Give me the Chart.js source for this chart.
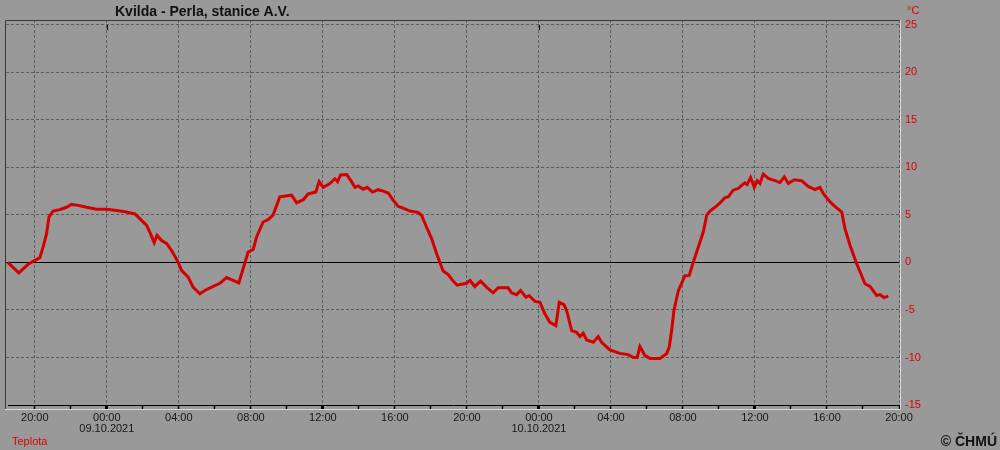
<!DOCTYPE html>
<html lang="cs">
<head>
    <meta charset="UTF-8">
    <title>Kvilda - Perla, stanice A.V.</title>
    <script src="https://cdn.jsdelivr.net/npm/chart.js"></script>
    <style>
        body { margin: 0; background: #999999; }
        canvas { display: block; }
    </style>
</head>
<body>
    <canvas id="tempChart" width="1000" height="450"></canvas>

    <script>
        // hodiny od 09.10.2021 00:00
        const hours = [
            -5.5, -4.89, -4.37, -3.72, -3.54, -3.35, -3.21, -2.98, -2.61, -2.24, -1.96, -1.59, -1.13, -0.57, -0.02,
            0.54, 1.09, 1.56, 1.83, 2.21, 2.43, 2.63, 2.79, 3.04, 3.32, 3.59, 3.96, 4.15, 4.52, 4.79, 5.17, 5.44,
            5.82, 6.28, 6.65, 7.02, 7.33, 7.57, 7.85, 8.13, 8.32, 8.68, 8.96, 9.24, 9.61, 10.26, 10.54, 10.91,
            11.18, 11.61, 11.79, 12.02, 12.39, 12.67, 12.82, 12.98, 13.32, 13.54, 13.78, 13.96, 14.24, 14.46,
            14.76, 15.07, 15.35, 15.63, 15.91, 16.18, 16.46, 16.83, 17.29, 17.48, 17.76, 18.04, 18.32, 18.68,
            18.96, 19.24, 19.46, 19.71, 19.98, 20.17, 20.44, 20.76, 21.09, 21.46, 21.74, 22.29, 22.48, 22.76,
            22.98, 23.28, 23.46, 23.78, 24.06, 24.33, 24.61, 24.94, 25.13, 25.39, 25.54, 25.82, 26.09, 26.28,
            26.46, 26.65, 27.02, 27.29, 27.48, 27.94, 28.5, 28.96, 29.24, 29.46, 29.61, 29.89, 30.17, 30.72,
            31.09, 31.24, 31.37, 31.5, 31.74, 32.11, 32.35, 32.57, 32.85, 33.13, 33.32, 33.5, 33.78, 34.06,
            34.33, 34.52, 34.79, 35.07, 35.26, 35.44, 35.57, 35.76, 35.96, 36.13, 36.28, 36.46, 36.74, 37.11,
            37.39, 37.63, 37.85, 38.18, 38.59, 38.96, 39.33, 39.61, 39.79, 40.17, 40.44, 40.82, 41.0, 41.28,
            41.65, 42.11, 42.39, 42.76, 42.94, 43.17, 43.41
        ];
        const temps = [
            0.0, -1.1, -0.2, 0.5, 1.6, 3.0, 4.8, 5.4, 5.55, 5.8, 6.1, 6.0, 5.8, 5.6, 5.6,
            5.45, 5.3, 5.1, 4.6, 3.9, 3.0, 2.1, 2.85, 2.3, 2.0, 1.27, 0.03, -0.84, -1.55, -2.6, -3.3, -2.95,
            -2.6, -2.2, -1.6, -1.9, -2.15, -0.67, 1.1, 1.37, 2.67, 4.25, 4.5, 5.0, 6.9, 7.07, 6.26, 6.6,
            7.2, 7.4, 8.5, 7.9, 8.3, 8.8, 8.5, 9.2, 9.25, 8.65, 7.9, 8.05, 7.7, 7.9,
            7.4, 7.65, 7.5, 7.3, 6.54, 5.9, 5.7, 5.4, 5.27, 4.96, 3.7, 2.5, 0.92, -0.9,
            -1.27, -1.97, -2.4, -2.3, -2.2, -1.9, -2.53, -1.97, -2.6, -3.2, -2.67, -2.67, -3.2, -3.4,
            -2.95, -3.66, -3.5, -4.1, -4.2, -5.4, -6.3, -6.65, -4.2, -4.43, -5.06, -7.17, -7.35, -7.8,
            -7.46, -8.16, -8.4, -7.8, -8.4, -9.2, -9.57, -9.7, -10.0, -10.0, -8.86, -9.8, -10.1, -10.1,
            -9.6, -8.9, -7.17, -5.06, -3.0, -1.4, -1.37, 0.0, 1.6, 3.2, 4.96, 5.4, 5.8, 6.26,
            6.8, 6.9, 7.6, 7.77, 8.1, 8.37, 8.2, 8.93, 7.9, 8.6, 8.3, 9.3, 8.83, 8.6,
            8.4, 9.0, 8.3, 8.7, 8.6, 8.0, 7.67, 7.9, 7.25, 6.37, 5.9, 5.3, 3.55, 1.8,
            -0.14, -2.25, -2.53, -3.48, -3.38, -3.7, -3.55
        ];
        const xTicks = [-4, -2, 0, 2, 4, 6, 8, 10, 12, 14, 16, 18, 20, 22, 24, 26, 28, 30, 32, 34, 36, 38, 40, 42, 44];
        const yTicks = [-15, -10, -5, 0, 5, 10, 15, 20, 25];
        const dates = { 0: '09.10.2021', 24: '10.10.2021' };

        const FONT = '"Liberation Sans", Arial, sans-serif';
        const GRID = '#5c5c5c';

        function hourLabel(v) {
            if (v % 4 !== 0) return '';
            const h = ((v % 24) + 24) % 24;
            const s = (h < 10 ? '0' : '') + h + ':00';
            return dates[v] ? [s, dates[v]] : s;
        }

        const frame = {
            id: 'frame',
            beforeDraw(chart) {
                const c = chart.ctx;
                c.save();
                c.fillStyle = '#999999';
                c.fillRect(0, 0, chart.width, chart.height);
                c.restore();
            },
            beforeDatasetsDraw(chart) {
                const c = chart.ctx, a = chart.chartArea;
                const y0 = chart.scales.y.getPixelForValue(0);
                c.save();
                c.strokeStyle = '#000';
                c.lineWidth = 1;
                c.beginPath();
                c.moveTo(a.left, Math.round(y0) + 0.5);
                c.lineTo(a.right, Math.round(y0) + 0.5);
                c.stroke();
                c.restore();
            },
            afterDraw(chart) {
                const c = chart.ctx, a = chart.chartArea;
                const xs = chart.scales.x;
                c.save();
                c.lineWidth = 1;
                // ramecek
                c.strokeStyle = '#3a3a3a';
                c.beginPath();
                c.moveTo(a.left - 0.5, 409);
                c.lineTo(a.left - 0.5, a.top + 0.5);
                c.lineTo(a.right + 1, a.top + 0.5);
                c.stroke();
                c.strokeStyle = '#d8d8d8';
                c.beginPath();
                c.moveTo(a.right + 1.5, a.top);
                c.lineTo(a.right + 1.5, 409.5);
                c.lineTo(a.left - 1, 409.5);
                c.stroke();
                // osa x
                c.strokeStyle = '#000';
                c.beginPath();
                c.moveTo(a.left + 2, a.bottom + 0.5);
                c.lineTo(a.right, a.bottom + 0.5);
                c.stroke();
                // pulnoc nahore
                [0, 24].forEach(v => {
                    const px = Math.round(xs.getPixelForValue(v)) + 0.5;
                    c.beginPath();
                    c.moveTo(px, a.top + 5);
                    c.lineTo(px, a.top + 10);
                    c.stroke();
                });
                // texty
                c.textBaseline = 'alphabetic';
                c.fillStyle = '#111';
                c.font = 'bold 14px ' + FONT;
                c.textAlign = 'left';
                c.fillText('Kvilda - Perla, stanice A.V.', 115, 16);
                c.fillStyle = '#dd0000';
                c.font = '11px ' + FONT;
                c.fillText('°C', 907, 14);
                c.fillText('Teplota', 12, 445);
                c.fillStyle = '#111';
                c.font = 'bold 14px ' + FONT;
                c.textAlign = 'right';
                c.fillText('© ČHMÚ', 997, 446);
                c.restore();
            }
        };

        new Chart(document.getElementById('tempChart'), {
            type: 'line',
            data: {
                datasets: [{
                    label: 'Teplota',
                    data: hours.map((h, i) => ({ x: h, y: temps[i] })),
                    borderColor: '#d40000',
                    borderWidth: 3,
                    pointRadius: 0,
                    tension: 0,
                    fill: false
                }]
            },
            options: {
                responsive: false,
                animation: false,
                devicePixelRatio: 1,
                layout: { padding: { left: 6, top: 20, right: 0, bottom: 0 } },
                plugins: {
                    legend: { display: false },
                    title: { display: false },
                    tooltip: { enabled: false }
                },
                scales: {
                    x: {
                        type: 'linear',
                        min: -5.6,
                        max: 44,
                        afterBuildTicks: s => { s.ticks = xTicks.map(v => ({ value: v })); },
                        afterFit: s => { s.height = 45; },
                        grid: {
                            color: ctx => (ctx.tick && ctx.tick.value % 4 === 0) ? GRID : 'rgba(0,0,0,0)',
                            borderDash: [3, 2],
                            lineWidth: 1,
                            drawTicks: true,
                            tickLength: 4,
                            tickColor: '#000',
                            tickWidth: ctx => (ctx.tick && ctx.tick.value % 12 === 0) ? 3 : 1.5,
                            tickBorderDash: []
                        },
                        border: { display: false, dash: [3, 2] },
                        ticks: {
                            autoSkip: false,
                            maxRotation: 0,
                            padding: 3,
                            color: '#151515',
                            font: { family: FONT, size: 11, lineHeight: 1 },
                            callback: v => hourLabel(v)
                        }
                    },
                    y: {
                        position: 'right',
                        min: -15,
                        max: 25.5,
                        afterBuildTicks: s => { s.ticks = yTicks.map(v => ({ value: v })); },
                        afterFit: s => { s.width = 101; },
                        grid: {
                            color: ctx => (ctx.tick && (ctx.tick.value === 0 || ctx.tick.value === -15)) ? 'rgba(0,0,0,0)' : GRID,
                            borderDash: [3, 2],
                            lineWidth: 1,
                            drawTicks: false
                        },
                        border: { display: false, dash: [3, 2] },
                        ticks: {
                            padding: 6,
                            color: '#dd0000',
                            font: { family: FONT, size: 11 }
                        }
                    }
                }
            },
            plugins: [frame]
        });
    </script>
</body>
</html>
